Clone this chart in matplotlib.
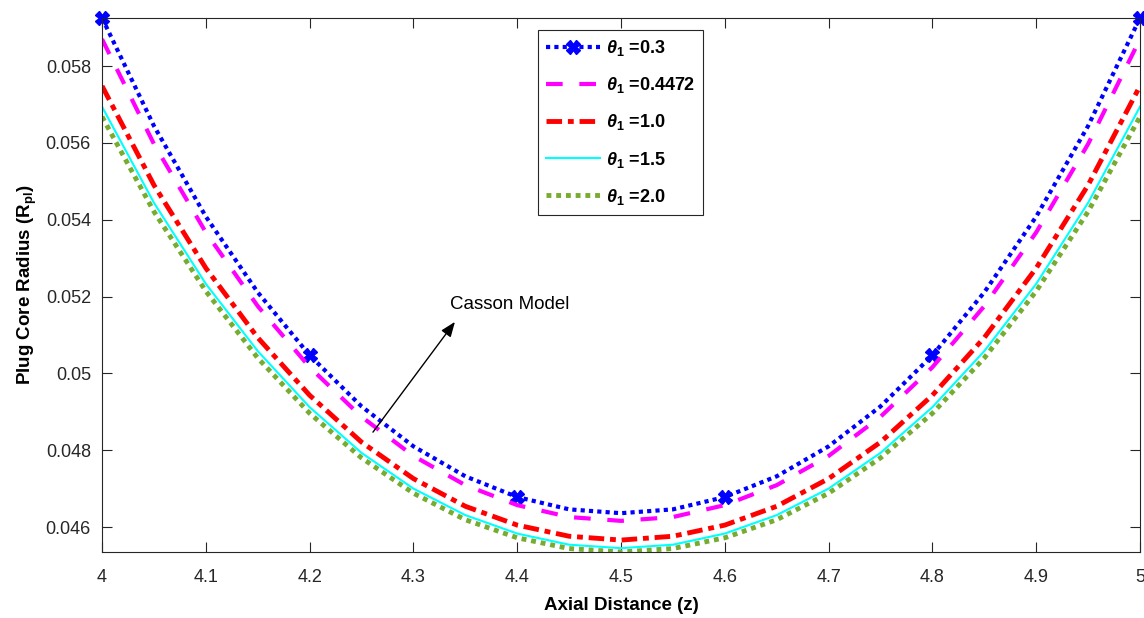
import numpy as np
import matplotlib
matplotlib.use("Agg")
import matplotlib.pyplot as plt

plt.rcParams['font.family'] = ['Liberation Sans', 'DejaVu Sans']
plt.rcParams['mathtext.fontset'] = 'custom'
plt.rcParams['mathtext.it'] = 'Liberation Sans:italic:bold'
plt.rcParams['mathtext.rm'] = 'Liberation Sans:bold'
plt.rcParams['mathtext.bf'] = 'Liberation Sans:bold'

# Axial positions along the stenosis
z = [4.00, 4.05, 4.10, 4.15, 4.20, 4.25, 4.30, 4.35, 4.40, 4.45, 4.50,
     4.55, 4.60, 4.65, 4.70, 4.75, 4.80, 4.85, 4.90, 4.95, 5.00]

# Plug core radius for each theta_1
r_03 = [0.05925, 0.05644, 0.05408, 0.05211, 0.05047, 0.04914, 0.04810, 0.04732, 0.04678, 0.04646, 0.04636,
        0.04646, 0.04678, 0.04732, 0.04810, 0.04914, 0.05047, 0.05211, 0.05408, 0.05644, 0.05925]
r_04472 = [0.05870, 0.05597, 0.05367, 0.05175, 0.05016, 0.04887, 0.04785, 0.04709, 0.04657, 0.04626, 0.04616,
           0.04626, 0.04657, 0.04709, 0.04785, 0.04887, 0.05016, 0.05175, 0.05367, 0.05597, 0.05870]
r_10 = [0.05748, 0.05490, 0.05274, 0.05093, 0.04943, 0.04821, 0.04726, 0.04654, 0.04605, 0.04576, 0.04566,
        0.04576, 0.04605, 0.04654, 0.04726, 0.04821, 0.04943, 0.05093, 0.05274, 0.05490, 0.05748]
r_15 = [0.05694, 0.05444, 0.05233, 0.05058, 0.04912, 0.04793, 0.04700, 0.04631, 0.04583, 0.04554, 0.04545,
        0.04554, 0.04583, 0.04631, 0.04700, 0.04793, 0.04912, 0.05058, 0.05233, 0.05444, 0.05694]
r_20 = [0.05668, 0.05421, 0.05214, 0.05040, 0.04896, 0.04780, 0.04688, 0.04619, 0.04572, 0.04544, 0.04535,
        0.04544, 0.04572, 0.04619, 0.04688, 0.04780, 0.04896, 0.05040, 0.05214, 0.05421, 0.05668]

x_ticks = [4.0, 4.1, 4.2, 4.3, 4.4, 4.5, 4.6, 4.7, 4.8, 4.9, 5.0]
x_labels = ['4', '4.1', '4.2', '4.3', '4.4', '4.5', '4.6', '4.7', '4.8', '4.9', '5']
y_ticks = [0.046, 0.048, 0.050, 0.052, 0.054, 0.056, 0.058]
y_labels = ['0.046', '0.048', '0.05', '0.052', '0.054', '0.056', '0.058']

fig = plt.figure(figsize=(11.44, 6.18), dpi=100)
ax = fig.add_axes([0.0892, 0.1068, 0.9073, 0.8641])

ax.plot(z, r_03, color='#0000ff', linestyle=(0, (1, 1)), linewidth=3,
        marker='X', markersize=10, markevery=4, clip_on=False,
        label=r'$\theta_{\mathrm{1}}$ =0.3')
ax.plot(z, r_04472, color='#ff00ff', linestyle=(0, (4, 4)), linewidth=3,
        label=r'$\theta_{\mathrm{1}}$ =0.4472')
ax.plot(z, r_10, color='#ff0000', linestyle=(0, (3.2, 1.2, 1.2, 1.2)), linewidth=3.5,
        label=r'$\theta_{\mathrm{1}}$ =1.0')
ax.plot(z, r_15, color='#00ffff', linestyle='-', linewidth=1.5,
        label=r'$\theta_{\mathrm{1}}$ =1.5')
ax.plot(z, r_20, color='#77ac30', linestyle=(0, (1, 1)), linewidth=3.5,
        label=r'$\theta_{\mathrm{1}}$ =2.0')

ax.set_xlim(4, 5)
ax.set_ylim(0.04535, 0.05925)
ax.set_xticks(x_ticks)
ax.set_xticklabels(x_labels)
ax.set_yticks(y_ticks)
ax.set_yticklabels(y_labels)
ax.tick_params(direction='in', top=True, right=True, labelsize=13, length=7,
               color='#262626', labelcolor='#262626')
ax.tick_params(axis='x', pad=12)
ax.tick_params(axis='y', pad=8)
for s in ax.spines.values():
    s.set_color('#262626')
    s.set_linewidth(0.8)

ax.set_xlabel('Axial Distance (z)', fontsize=13.5, fontweight='bold', labelpad=8)
ax.set_ylabel(r'Plug Core Radius (R$_{\mathrm{pl}}$)', fontsize=13.5, fontweight='bold', labelpad=5)

ax.annotate('', xy=(4.340, 0.05134), xytext=(4.261, 0.04847),
            arrowprops=dict(arrowstyle='-|>,head_length=0.9,head_width=0.35',
                            color='black', lw=1.0, shrinkA=0, shrinkB=0))
ax.text(4.335, 0.05178, 'Casson Model', fontsize=13.5, ha='left', va='center')

leg = ax.legend(loc='upper left', bbox_to_anchor=(0.4202, 0.9775),
                prop={'weight': 'bold', 'size': 13}, fancybox=False, framealpha=1,
                edgecolor='#262626', handlelength=3.0, labelspacing=0.95,
                borderpad=0.45, handletextpad=0.3, borderaxespad=0)
leg.get_frame().set_linewidth(0.8)

fig.savefig('out.png', dpi=100)
